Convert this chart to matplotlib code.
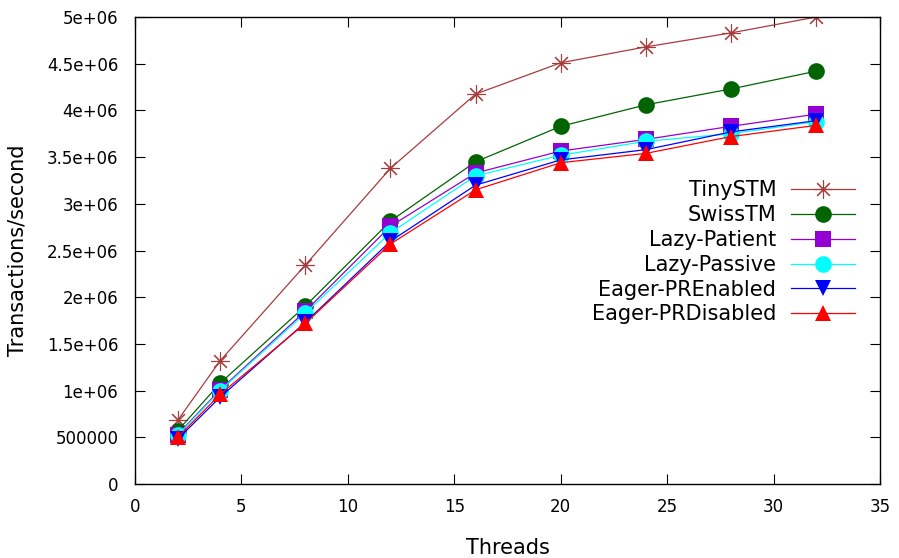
import numpy as np
import matplotlib
matplotlib.use("Agg")
import matplotlib.pyplot as plt
from matplotlib.ticker import FixedLocator

threads = [2, 4, 8, 12, 16, 20, 24, 28, 32]

# transactions/second per system
tinystm = [0.68e6, 1.32e6, 2.345e6, 3.38e6, 4.175e6, 4.51e6, 4.68e6, 4.83e6, 5.0e6]
swisstm = [0.57e6, 1.08e6, 1.905e6, 2.815e6, 3.45e6, 3.83e6, 4.06e6, 4.23e6, 4.42e6]
lazy_patient = [0.53e6, 1.01e6, 1.85e6, 2.76e6, 3.33e6, 3.565e6, 3.69e6, 3.83e6, 3.96e6]
lazy_passive = [0.52e6, 1.0e6, 1.83e6, 2.69e6, 3.30e6, 3.52e6, 3.67e6, 3.75e6, 3.88e6]
eager_pre = [0.48e6, 0.93e6, 1.73e6, 2.60e6, 3.20e6, 3.47e6, 3.58e6, 3.77e6, 3.89e6]
eager_prd = [0.50e6, 0.96e6, 1.72e6, 2.57e6, 3.15e6, 3.44e6, 3.54e6, 3.72e6, 3.84e6]

yticks = [0, 5e5, 1e6, 1.5e6, 2e6, 2.5e6, 3e6, 3.5e6, 4e6, 4.5e6, 5e6]
ylabels = ["0", "500000", "1e+06", "1.5e+06", "2e+06", "2.5e+06", "3e+06",
           "3.5e+06", "4e+06", "4.5e+06", "5e+06"]

series = [
    ("TinySTM", tinystm, "#a83c3c", (8, 2, 0), 13),
    ("SwissTM", swisstm, "#006400", "o", 12),
    ("Lazy-Patient", lazy_patient, "#9400d3", "s", 11),
    ("Lazy-Passive", lazy_passive, "#00ffff", "o", 12),
    ("Eager-PREnabled", eager_pre, "#0000ff", "v", 12),
    ("Eager-PRDisabled", eager_prd, "#ff0000", "^", 12),
]

plt.rcParams['font.family'] = ['DejaVu Sans']
fig = plt.figure(figsize=(8.99, 5.58), dpi=100)
ax = fig.add_axes([0.1502, 0.1326, 0.8287, 0.8369])

for name, vals, col, mk, ms in series:
    ax.plot(threads, vals, color=col, lw=0.9, marker=mk, markersize=ms,
            markeredgewidth=0.8 if mk == (8, 2, 0) else 0.0,
            markerfacecolor=col, markeredgecolor=col, label=name)

ax.set_xlim(0, 35)
ax.set_ylim(0, 5e6)
ax.xaxis.set_major_locator(FixedLocator([0, 5, 10, 15, 20, 25, 30, 35]))
ax.set_yticks(yticks)
ax.set_yticklabels(ylabels)
ax.tick_params(direction="in", length=7, width=0.8, top=True, right=True,
               labelsize=12, pad=10)
ax.tick_params(axis="y", pad=12)
for sp in ax.spines.values():
    sp.set_linewidth(1.0)

ax.set_xlabel("Threads", fontsize=15, labelpad=16)
ax.set_ylabel("Transactions/second", fontsize=15, labelpad=14)

leg = ax.legend(loc="upper right", bbox_to_anchor=(0.967, 0.65),
                markerfirst=False, frameon=False, fontsize=15,
                handlelength=3.08, handletextpad=0.72, labelspacing=0.23,
                borderaxespad=0, borderpad=0)

fig.savefig("out.png", dpi=100)
